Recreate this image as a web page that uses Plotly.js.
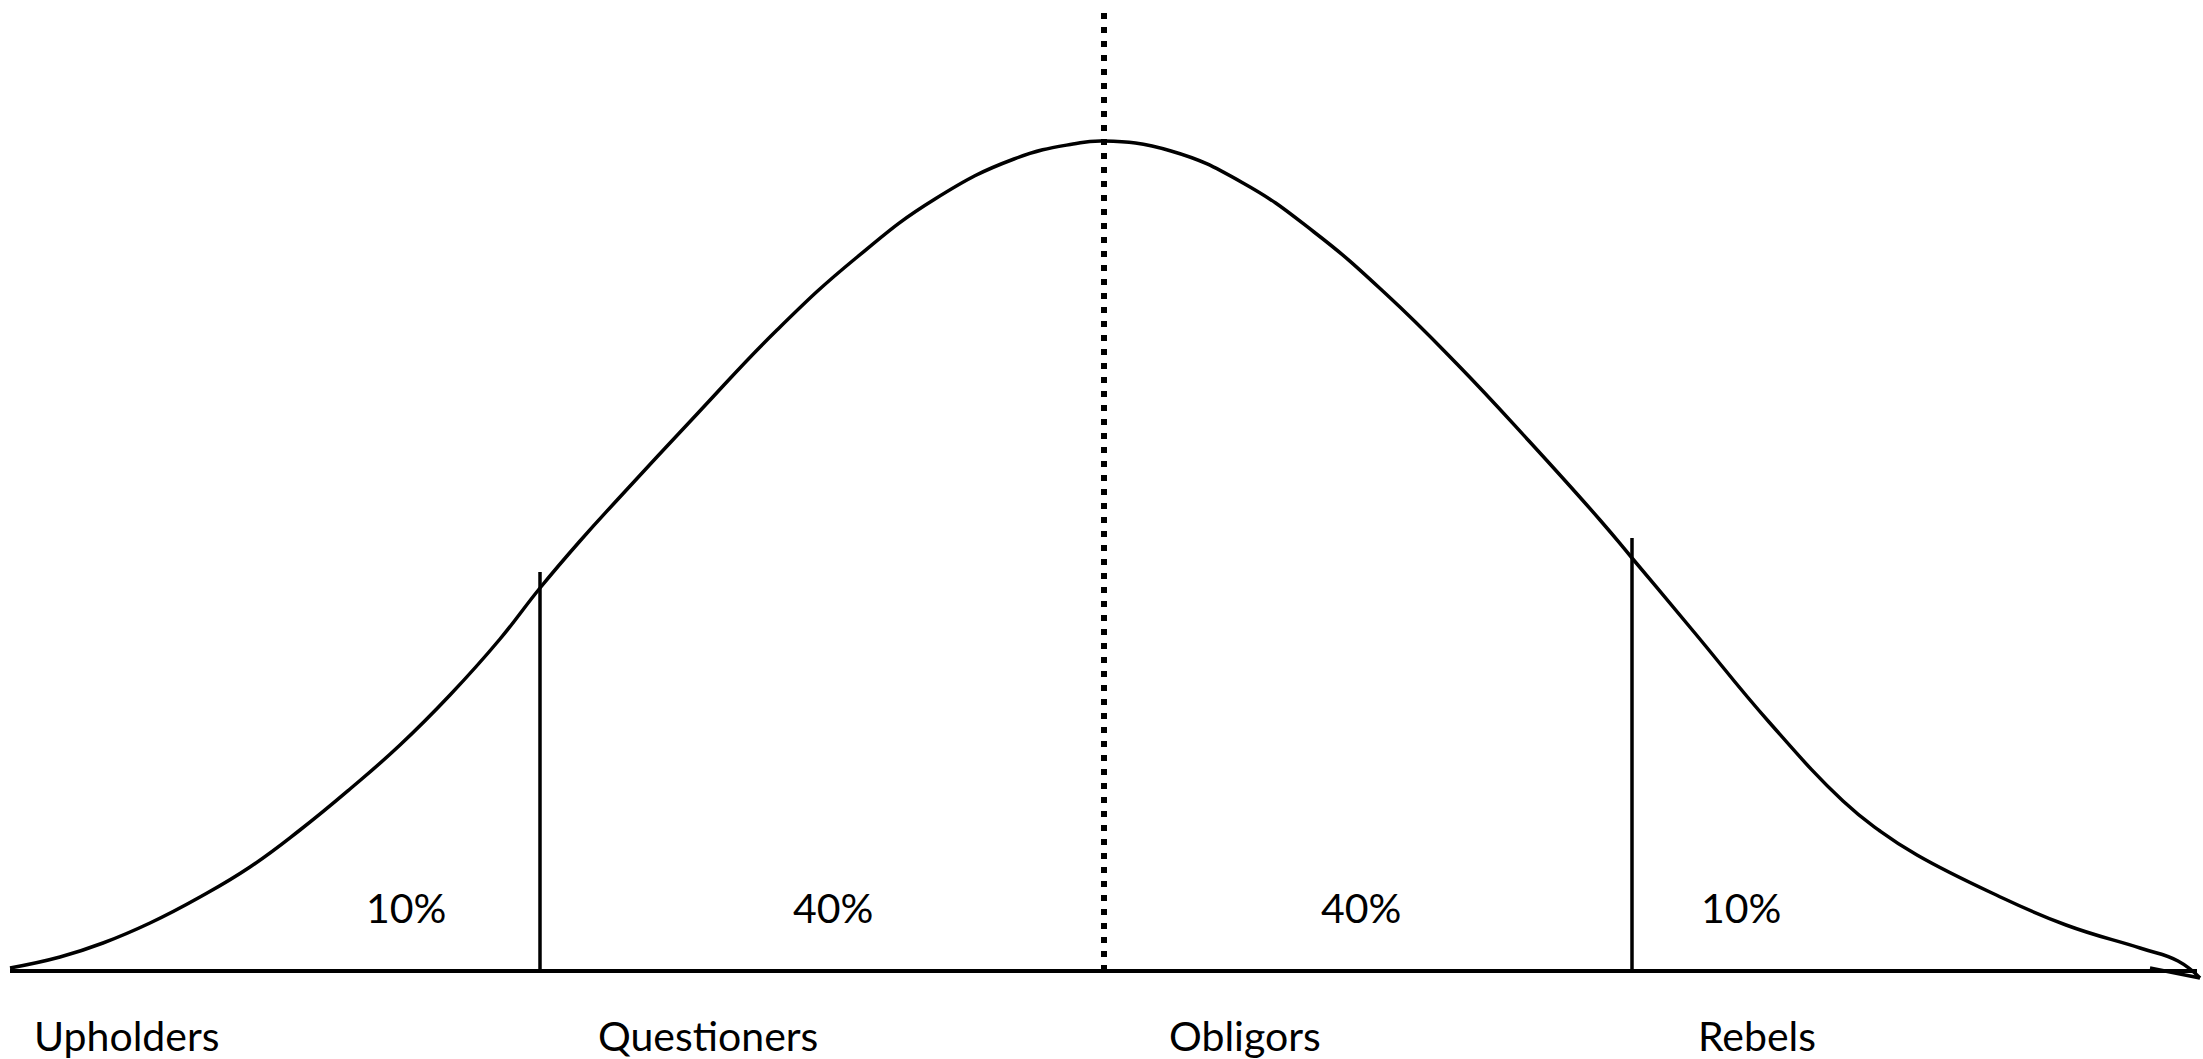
<!DOCTYPE html>
<html>
<head>
<meta charset="utf-8">
<script src="https://cdn.plot.ly/plotly-3.0.1.min.js"></script>
<style>
  html, body { margin: 0; padding: 0; background: #ffffff; }
  #chart { width: 2203px; height: 1059px; }
</style>
</head>
<body>
<div id="chart"></div>
<script>
// Hand-drawn bell curve: horizontal position and height above the baseline
const curveX = [10, 60, 103, 150, 200, 250, 300, 350, 400, 450, 500, 540, 580, 619,
                698, 777, 856, 935, 1014, 1073, 1104,
                1171, 1243, 1314, 1386, 1457, 1529, 1600, 1632, 1694, 1769, 1843,
                1880, 1917, 1992, 2066, 2140, 2178, 2200];
const curveH = [3, 14, 28, 48, 74, 104, 141, 182, 226, 276, 332, 383, 430, 473,
                558, 641, 713, 772, 812, 827, 830,
                820, 788, 739, 677, 607, 530, 451, 413, 339, 249, 170,
                140, 116, 78, 46, 23, 10, -7];
// little return stroke at the right tail
const hookX = [2200, 2150];
const hookH = [-7, 3];

// baseline extent
const baseX = [10, 2197];

// segment dividers (10% / 40% / 40% / 10%)
const dividerX = [540, 1632];
const dividerTop = [399, 433];

// mean (dotted)
const meanX = 1104;
const meanTop = 961;

// share labels
const shareLabels = ['10%', '40%', '40%', '10%'];
const shareX = [406, 833, 1361, 1741];
const shareH = 64;

// tendency names
const typeLabels = ['Upholders', 'Questioners', 'Obligors', 'Rebels'];
const typeX = [126, 708, 1245, 1757];
const typeH = -64;

const black = '#000000';
const FONT = 'Lato, "Open Sans", sans-serif';

const traces = [];
traces.push({
  x: baseX, y: [0, 0], mode: 'lines', type: 'scatter',
  line: { color: black, width: 4 }, hoverinfo: 'skip', showlegend: false
});
traces.push({
  x: curveX, y: curveH, mode: 'lines', type: 'scatter',
  line: { color: black, width: 3.5, shape: 'spline', smoothing: 1.3 },
  hoverinfo: 'skip', showlegend: false
});
traces.push({
  x: hookX, y: hookH, mode: 'lines', type: 'scatter',
  line: { color: black, width: 3.5 }, hoverinfo: 'skip', showlegend: false
});
dividerX.forEach((dx, i) => {
  traces.push({
    x: [dx, dx], y: [0, dividerTop[i]], mode: 'lines', type: 'scatter',
    line: { color: black, width: 3.5 }, hoverinfo: 'skip', showlegend: false
  });
});
traces.push({
  x: [meanX, meanX], y: [0, meanTop], mode: 'lines', type: 'scatter',
  line: { color: black, width: 6, dash: '6px,8px' }, hoverinfo: 'skip', showlegend: false
});

const annotations = [];
shareLabels.forEach((t, i) => {
  annotations.push({
    x: shareX[i], y: shareH, xref: 'x', yref: 'y', text: t, showarrow: false,
    xanchor: 'center', yanchor: 'middle',
    font: { family: FONT, size: 41, color: black }
  });
});
typeLabels.forEach((t, i) => {
  annotations.push({
    x: typeX[i], y: typeH, xref: 'x', yref: 'y', text: t, showarrow: false,
    xanchor: 'center', yanchor: 'middle',
    font: { family: FONT, size: 41, color: black }
  });
});

const layout = {
  width: 2203, height: 1059,
  margin: { l: 0, r: 0, t: 0, b: 0, pad: 0 },
  paper_bgcolor: '#ffffff', plot_bgcolor: '#ffffff',
  showlegend: false,
  xaxis: { range: [0, 2203], visible: false, fixedrange: true },
  yaxis: { range: [-88, 971], visible: false, fixedrange: true },
  annotations: annotations
};

Plotly.newPlot('chart', traces, layout, { displayModeBar: false, staticPlot: true });
</script>
</body>
</html>
